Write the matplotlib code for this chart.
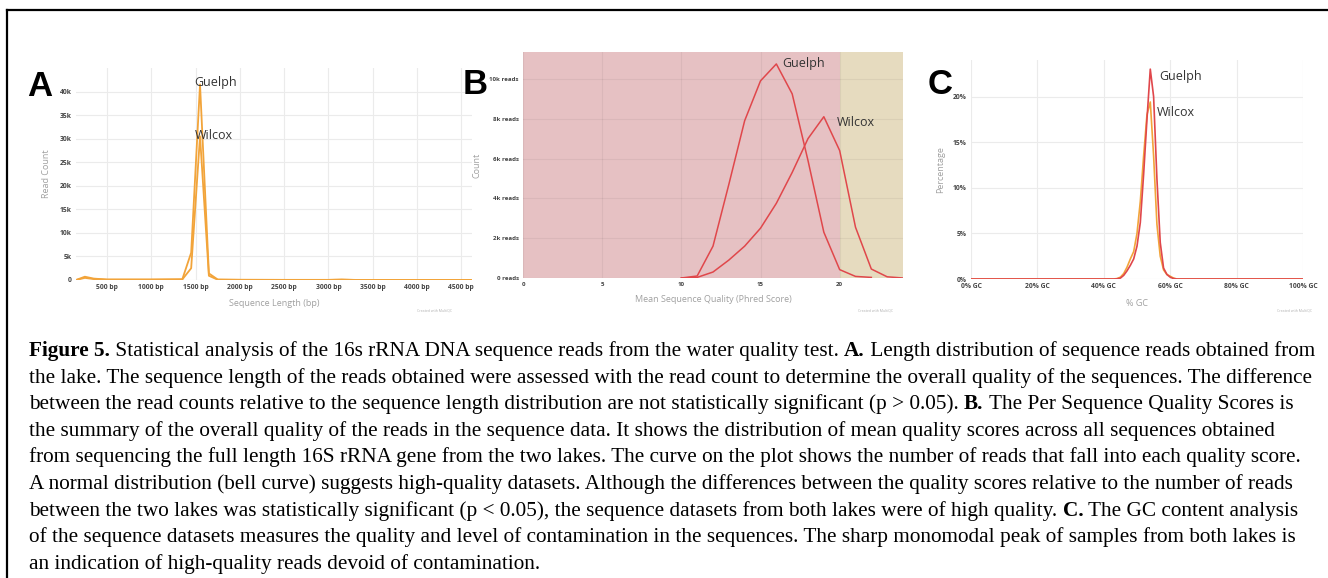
"""Figure 5: sequence length, quality score and GC content panels with caption."""

import matplotlib

matplotlib.use("Agg")
import matplotlib.pyplot as plt
from matplotlib.lines import Line2D
from matplotlib.text import Annotation

# panel A: sequence length distribution
LEN_BP = [150, 250, 350, 500, 1000, 1350, 1450, 1550, 1650, 1750, 2000, 2500, 3000, 3150, 3300, 4000, 4620]
LEN_GUELPH = [0, 700, 300, 100, 100, 150, 5800, 41500, 1400, 100, 50, 30, 30, 100, 20, 10, 10]
LEN_WILCOX = [0, 450, 200, 80, 80, 120, 2500, 30500, 900, 60, 30, 20, 20, 60, 10, 5, 5]
LEN_XTICKS = [500, 1000, 1500, 2000, 2500, 3000, 3500, 4000, 4500]
LEN_YTICKS = [0, 5000, 10000, 15000, 20000, 25000, 30000, 35000, 40000]

# panel B: per sequence quality scores
PHRED_G = [10, 11, 12, 13, 14, 15, 16, 17, 18, 19, 20, 21, 22]
QUAL_GUELPH = [0, 100, 1600, 4700, 7900, 9900, 10750, 9250, 5900, 2300, 420, 80, 30]
PHRED_W = [10, 11, 12, 13, 14, 15, 16, 17, 18, 19, 20, 21, 22, 23, 24]
QUAL_WILCOX = [0, 30, 300, 900, 1600, 2500, 3750, 5300, 7000, 8100, 6400, 2550, 450, 60, 0]
QUAL_XTICKS = [0, 5, 10, 15, 20]
QUAL_YTICKS = [0, 2000, 4000, 6000, 8000, 10000]

# panel C: per sequence GC content
GC_PCT = list(range(0, 101))
GC_GUELPH_PEAK = {44: 0.02, 45: 0.1, 46: 0.4, 47: 0.9, 48: 1.5, 49: 2.2, 50: 3.6, 51: 6.2,
                  52: 11.5, 53: 17.5, 54: 23.0, 55: 20.0, 56: 11.0, 57: 4.0, 58: 1.2,
                  59: 0.5, 60: 0.2, 61: 0.05}
GC_WILCOX_PEAK = {44: 0.05, 45: 0.2, 46: 0.6, 47: 1.3, 48: 2.2, 49: 3.0, 50: 5.0, 51: 8.5,
                  52: 13.5, 53: 18.0, 54: 19.4, 55: 13.5, 56: 6.0, 57: 2.5, 58: 1.0,
                  59: 0.5, 60: 0.3, 61: 0.1}
GC_XTICKS = [0, 20, 40, 60, 80, 100]
GC_YTICKS = [0, 5, 10, 15, 20]

CAPTION = [
    [("Figure 5.", True), (" Statistical analysis of the 16s rRNA DNA sequence reads from the water quality test. ", False),
     ("A.", True), (" Length distribution of sequence reads obtained from", False)],
    [("the lake. The sequence length of the reads obtained were assessed with the read count to determine the overall quality of the sequences. The difference", False)],
    [("between the read counts relative to the sequence length distribution are not statistically significant (p > 0.05). ", False),
     ("B.", True), (" The Per Sequence Quality Scores is", False)],
    [("the summary of the overall quality of the reads in the sequence data. It shows the distribution of mean quality scores across all sequences obtained", False)],
    [("from sequencing the full length 16S rRNA gene from the two lakes. The curve on the plot shows the number of reads that fall into each quality score.", False)],
    [("A normal distribution (bell curve) suggests high-quality datasets. Although the differences between the quality scores relative to the number of reads", False)],
    [("between the two lakes was statistically significant (p < 0.05), the sequence datasets from both lakes were of high quality. ", False),
     ("C.", True), (" The GC content analysis", False)],
    [("of the sequence datasets measures the quality and level of contamination in the sequences. The sharp monomodal peak of samples from both lakes is", False)],
    [("an indication of high-quality reads devoid of contamination.", False)],
]

ORANGE = "#f2a43a"
RED = "#e0474b"
W, H = 1328, 578
SANS = ["Open Sans", "DejaVu Sans"]
CAP_SIZE = 15.3


def _rect(left, top, right, bottom):
    return [left / W, 1 - bottom / H, (right - left) / W, (bottom - top) / H]


def _style(ax, xticks, xlabels, yticks, ylabels, xlabel, ylabel, ticksize=4.9):
    for s in ax.spines.values():
        s.set_visible(False)
    ax.set_xticks(xticks, xlabels)
    ax.set_yticks(yticks, ylabels)
    ax.tick_params(length=0, labelsize=ticksize, labelcolor="#444444", pad=3)
    for lab in ax.get_xticklabels() + ax.get_yticklabels():
        lab.set_fontweight("bold")
        lab.set_family(SANS)
    ax.grid(True, color="#ebebeb", linewidth=0.8)
    ax.set_axisbelow(True)
    ax.set_xlabel(xlabel, fontsize=6.5, color="#a0a0a0", family=SANS, labelpad=6)
    ax.set_ylabel(ylabel, fontsize=6.5, color="#a0a0a0", family=SANS, labelpad=6)


def _series_label(ax, x, y, text):
    ax.text(x, y, text, fontsize=9, color="#333333", family=SANS, va="center", ha="left")


def main():
    fig = plt.figure(figsize=(W / 100, H / 100), dpi=100)

    # outer frame (top and left edges only)
    fig.add_artist(Line2D([7 / W, 1], [1 - 10 / H, 1 - 10 / H], color="black", lw=1.6, transform=fig.transFigure))
    fig.add_artist(Line2D([7 / W, 7 / W], [0, 1 - 10 / H], color="black", lw=1.6, transform=fig.transFigure))

    # A
    ax = fig.add_axes(_rect(76, 68, 472, 280))
    ax.plot(LEN_BP, LEN_WILCOX, color=ORANGE, lw=1.3)
    ax.plot(LEN_BP, LEN_GUELPH, color=ORANGE, lw=1.3)
    ax.set_xlim(150, 4620)
    ax.set_ylim(0, 45000)
    _style(ax, LEN_XTICKS, [f"{v} bp" for v in LEN_XTICKS], LEN_YTICKS,
           ["0"] + [f"{v // 1000}k" for v in LEN_YTICKS[1:]], "Sequence Length (bp)", "Read Count")
    _series_label(ax, 1490, 41900, "Guelph")
    _series_label(ax, 1490, 30600, "Wilcox")

    # B
    ax = fig.add_axes(_rect(523, 52, 903, 278))
    ax.axvspan(0, 20, color="#e6c1c3", zorder=0, lw=0)
    ax.axvspan(20, 24, color="#e6dbbf", zorder=0, lw=0)
    ax.plot(PHRED_G, QUAL_GUELPH, color=RED, lw=1.1)
    ax.plot(PHRED_W, QUAL_WILCOX, color=RED, lw=1.1)
    ax.set_xlim(0, 24)
    ax.set_ylim(0, 11350)
    _style(ax, QUAL_XTICKS, [str(v) for v in QUAL_XTICKS], QUAL_YTICKS,
           ["0 reads"] + [f"{v // 1000}k reads" for v in QUAL_YTICKS[1:]],
           "Mean Sequence Quality (Phred Score)", "Count", ticksize=4.4)
    ax.grid(True, color="black", alpha=0.05, linewidth=0.8)
    _series_label(ax, 16.4, 10750, "Guelph")
    _series_label(ax, 19.8, 7800, "Wilcox")

    # C
    gc_g = [GC_GUELPH_PEAK.get(p, 0.0) for p in GC_PCT]
    gc_w = [GC_WILCOX_PEAK.get(p, 0.0) for p in GC_PCT]
    ax = fig.add_axes(_rect(971, 60, 1303, 279))
    ax.plot(GC_PCT, gc_w, color=ORANGE, lw=1.2)
    ax.plot(GC_PCT, gc_g, color=RED, lw=1.2)
    ax.set_xlim(0, 100)
    ax.set_ylim(0, 24)
    _style(ax, GC_XTICKS, [f"{v}% GC" for v in GC_XTICKS], GC_YTICKS,
           [f"{v}%" for v in GC_YTICKS], "% GC", "Percentage")
    _series_label(ax, 56.6, 22.2, "Guelph")
    _series_label(ax, 56.0, 18.2, "Wilcox")

    # panel letters and MultiQC credits
    for x, y, letter in [(27, 96, "A"), (463, 94, "B"), (928, 94, "C")]:
        fig.text(x / W, 1 - y / H, letter, fontsize=25, fontweight="bold", family="Liberation Sans", va="baseline")
    for x in [452, 893, 1312]:
        fig.text(x / W, 1 - 311 / H, "Created with MultiQC", fontsize=2.5, color="#b0b0b0", ha="right", family=SANS)

    # caption: each line is a chain of runs, bold runs for the figure/panel tags
    for i, runs in enumerate(CAPTION):
        y = 1 - (356 + 26.6 * i) / H
        text, bold = runs[0]
        prev = fig.text(29 / W, y, text, fontsize=CAP_SIZE, family="Liberation Serif",
                        fontweight="bold" if bold else "normal", va="baseline")
        for text, bold in runs[1:]:
            prev = fig.add_artist(Annotation(text, xy=(1, 0), xycoords=prev, va="bottom",
                                             fontsize=CAP_SIZE, family="Liberation Serif",
                                             fontweight="bold" if bold else "normal"))

    fig.savefig("out.png", dpi=100)
    plt.close(fig)


if __name__ == "__main__":
    main()
